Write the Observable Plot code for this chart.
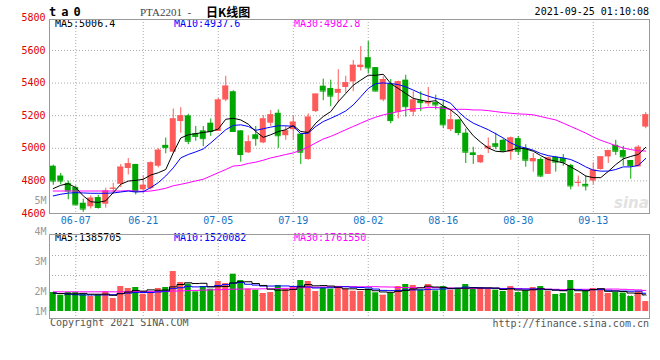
<!DOCTYPE html>
<html><head><meta charset="utf-8">
<script src="https://cdn.jsdelivr.net/npm/d3@7"></script>
<script src="https://cdn.jsdelivr.net/npm/@observablehq/plot@0.6"></script>
<style>
body{margin:0;background:#fff;}
#wrap{position:relative;width:660px;height:360px;overflow:hidden;font-family:"DejaVu Sans Mono",monospace;background:#fff;}
.t{position:absolute;white-space:pre;font-size:10px;line-height:12px;font-family:"DejaVu Sans Mono",monospace;}
#wrap svg{position:absolute;left:0;overflow:visible;}
</style></head><body>
<div id="wrap">
  <div class="t" style="left:614px;top:194px;font:italic bold 15px 'DejaVu Sans',sans-serif;color:#e2e2e2;">sina</div>
  <div class="t" style="left:49px;top:5px;font:bold 12px 'DejaVu Sans Mono',monospace;line-height:14px;letter-spacing:5px;color:#000;">ta0</div>
  <div class="t" style="left:140px;top:5px;font:11px 'Liberation Serif',serif;line-height:14px;color:#444;">PTA2201  - </div>
  <div class="t" style="left:206px;top:5px;font:bold 12px 'Noto Sans CJK SC',sans-serif;line-height:14px;color:#000;">日K线图</div>
  <div class="t" style="right:11px;top:6px;color:#000;">2021-09-25 01:10:08</div>
  <div class="t" id="lg1" style="left:55px;top:18px;color:#000;"></div>
  <div class="t" id="lg2" style="left:174px;top:18px;color:#0000ff;"></div>
  <div class="t" id="lg3" style="left:294px;top:18px;color:#ff00ff;"></div>
  <div class="t" id="lv1" style="left:55px;top:232px;color:#000;"></div>
  <div class="t" id="lv2" style="left:174px;top:232px;color:#0000ff;"></div>
  <div class="t" id="lv3" style="left:294px;top:232px;color:#ff00ff;"></div>
  <div class="t" style="left:50px;top:317px;color:#555;">Copyright 2021 SINA.COM</div>
  <div class="t" style="right:11px;top:318px;color:#555;">http://finance.sina.com.cn</div>
</div>
<script>
// ---- data ----
const dates = ["06-02","06-03","06-04","06-07","06-08","06-09","06-10","06-11","06-15","06-16","06-17","06-18","06-21","06-22","06-23","06-24","06-25","06-28","06-29","06-30",
"07-01","07-02","07-05","07-06","07-07","07-08","07-09","07-12","07-13","07-14","07-15","07-16","07-19","07-20","07-21","07-22","07-23","07-26","07-27","07-28","07-29","07-30",
"08-02","08-03","08-04","08-05","08-06","08-09","08-10","08-11","08-12","08-13","08-16","08-17","08-18","08-19","08-20","08-23","08-24","08-25","08-26","08-27","08-30","08-31",
"09-01","09-02","09-03","09-06","09-07","09-08","09-09","09-10","09-13","09-14","09-15","09-16","09-17","09-22","09-23","09-24"];
const open  = [4890,4830,4785,4759,4663,4641,4698,4657,4750,4779,4876,4901,4745,4753,4890,5018,4976,5164,5199,5089,5107,5154,5103,5296,5347,5107,4972,5083,5033,5154,5215,5077,5114,5087,4931,5225,5381,5367,5337,5373,5407,5495,5556,5495,5296,5393,5221,5418,5221,5292,5272,5280,5255,5114,5174,5093,4972,4911,4996,5028,5049,4976,5059,4998,4917,4931,4840,4945,4937,4895,4787,4779,4799,4870,4947,5018,4986,4925,4886,5130];
const high  = [4897,4846,4799,4769,4688,4708,4712,4755,4785,4901,4937,4901,4830,4917,4998,5063,5241,5249,5209,5134,5134,5180,5306,5442,5353,5107,5077,5134,5201,5231,5235,5134,5199,5087,5211,5332,5424,5418,5482,5442,5539,5624,5655,5495,5438,5422,5412,5448,5347,5347,5373,5326,5296,5235,5174,5118,5006,4960,5063,5093,5057,5069,5073,5022,4968,4941,4945,4951,4962,4901,4830,4830,4911,4947,4988,5049,5012,4925,5016,5219];
const low   = [4773,4777,4684,4650,4607,4627,4627,4633,4718,4759,4836,4714,4724,4745,4880,4966,4968,5093,5022,5043,5010,5073,5103,5286,5103,4915,4968,5012,5028,5134,4998,5049,5049,4901,4927,5219,5292,5255,5280,5337,5347,5474,5458,5347,5286,5150,5180,5191,5195,5225,5255,5235,5120,5103,5077,4907,4901,4907,4968,4992,4976,4927,4956,4884,4854,4820,4840,4854,4890,4745,4763,4738,4775,4866,4907,4956,4890,4810,4886,5120];
const close = [4799,4799,4738,4653,4627,4694,4637,4738,4755,4884,4905,4734,4773,4911,4988,5004,5180,5199,5043,5073,5059,5103,5296,5381,5103,4962,5039,5059,5180,5205,5077,5107,5160,4976,5191,5332,5351,5320,5361,5402,5509,5509,5493,5351,5422,5170,5408,5255,5296,5280,5286,5266,5144,5174,5097,4976,4962,4955,5012,5012,4982,5063,4982,4927,4937,4830,4941,4915,4915,4769,4791,4769,4866,4947,4986,4982,4947,4895,5006,5205];
const ma5  = [4753,4773,4783,4759,4708,4672,4668,4678,4728,4779,4799,4803,4810,4836,4850,4870,4972,5063,5083,5090,5097,5103,5118,5178,5184,5174,5148,5103,5067,5083,5103,5114,5140,5103,5097,5154,5195,5225,5286,5336,5387,5418,5448,5448,5454,5397,5367,5336,5306,5296,5286,5292,5260,5235,5199,5134,5077,5037,5002,4982,4978,4988,5002,4996,4982,4955,4931,4921,4911,4886,4860,4830,4820,4820,4858,4900,4935,4950,4962,5006];
const ma10 = [4708,4718,4725,4728,4726,4724,4724,4724,4726,4732,4738,4732,4734,4759,4789,4830,4880,4941,4962,4978,4996,5033,5073,5114,5140,5144,5134,5110,5120,5130,5138,5138,5134,5089,5093,5134,5164,5184,5205,5229,5266,5316,5367,5397,5401,5397,5391,5377,5357,5336,5320,5306,5296,5276,5225,5184,5154,5134,5114,5089,5063,5033,5012,5002,4988,4968,4955,4947,4941,4931,4911,4886,4866,4860,4860,4870,4886,4886,4895,4938];
const ma30 = [4738,4738,4738,4738,4738,4738,4738,4738,4738,4738,4740,4738,4735,4738,4745,4755,4770,4779,4789,4800,4810,4830,4850,4870,4891,4895,4907,4915,4927,4941,4951,4962,4972,4988,5008,5033,5057,5073,5093,5114,5134,5154,5174,5191,5205,5215,5225,5235,5241,5245,5251,5251,5245,5239,5239,5239,5235,5235,5231,5225,5219,5215,5211,5209,5205,5195,5184,5174,5154,5134,5114,5093,5069,5049,5033,5016,5002,4992,4985,4983];
const volume = [1.58e6,1.36e6,1.58e6,1.58e6,1.44e6,1.25e6,1.36e6,1.64e6,1.08e6,2.08e6,1.92e6,2.00e6,1.44e6,1.58e6,1.92e6,2.00e6,3.33e6,2.42e6,2.28e6,1.64e6,
2.08e6,1.86e6,2.50e6,2.33e6,3.11e6,2.58e6,1.86e6,1.78e6,1.50e6,1.58e6,2.17e6,1.86e6,2.08e6,2.58e6,2.50e6,1.67e6,1.97e6,1.86e6,2.08e6,1.86e6,
1.69e6,1.67e6,1.86e6,1.56e6,1.36e6,1.53e6,2.08e6,2.25e6,2.17e6,1.81e6,2.25e6,1.72e6,2.08e6,1.78e6,1.86e6,2.25e6,1.86e6,2.00e6,1.86e6,1.78e6,
1.67e6,2.08e6,1.58e6,1.72e6,2.00e6,2.08e6,1.67e6,1.42e6,1.50e6,2.58e6,1.50e6,1.67e6,1.92e6,1.83e6,1.50e6,1.58e6,1.53e6,1.25e6,1.67e6,0.83e6];
const volMa5 = [1.53e6,1.50e6,1.47e6,1.47e6,1.51e6,1.44e6,1.44e6,1.45e6,1.35e6,1.48e6,1.62e6,1.74e6,1.70e6,1.80e6,1.77e6,1.79e6,2.05e6,2.25e6,2.39e6,2.33e6,
2.35e6,2.06e6,2.07e6,2.08e6,2.38e6,2.48e6,2.48e6,2.33e6,2.17e6,1.86e6,1.78e6,1.78e6,1.84e6,2.05e6,2.24e6,2.14e6,2.16e6,2.12e6,2.02e6,1.89e6,
1.89e6,1.83e6,1.83e6,1.73e6,1.63e6,1.60e6,1.68e6,1.76e6,1.88e6,1.97e6,2.11e6,2.04e6,2.01e6,1.93e6,1.94e6,1.94e6,1.97e6,1.95e6,1.97e6,1.95e6,
1.83e6,1.88e6,1.79e6,1.77e6,1.81e6,1.89e6,1.81e6,1.78e6,1.73e6,1.85e6,1.73e6,1.73e6,1.83e6,1.90e6,1.68e6,1.70e6,1.67e6,1.54e6,1.51e6,1.39e6];
const volMa10 = [1.53e6,1.50e6,1.45e6,1.40e6,1.38e6,1.38e6,1.38e6,1.38e6,1.40e6,1.50e6,1.53e6,1.59e6,1.58e6,1.58e6,1.63e6,1.70e6,1.90e6,1.98e6,2.10e6,2.05e6,
2.07e6,2.06e6,2.16e6,2.24e6,2.36e6,2.41e6,2.27e6,2.20e6,2.12e6,2.12e6,2.13e6,2.13e6,2.09e6,2.11e6,2.05e6,1.96e6,1.97e6,1.98e6,2.04e6,2.06e6,
2.02e6,2.00e6,1.97e6,1.87e6,1.76e6,1.74e6,1.76e6,1.79e6,1.80e6,1.80e6,1.85e6,1.86e6,1.88e6,1.90e6,1.95e6,2.03e6,2.00e6,1.98e6,1.95e6,1.94e6,
1.89e6,1.92e6,1.87e6,1.87e6,1.88e6,1.86e6,1.84e6,1.79e6,1.75e6,1.83e6,1.81e6,1.77e6,1.81e6,1.82e6,1.77e6,1.72e6,1.70e6,1.69e6,1.70e6,1.52e6];
const volMa30 = [1.64e6,1.64e6,1.64e6,1.64e6,1.64e6,1.64e6,1.64e6,1.64e6,1.64e6,1.64e6,1.66e6,1.66e6,1.66e6,1.66e6,1.66e6,1.66e6,1.70e6,1.72e6,1.74e6,1.76e6,
1.78e6,1.80e6,1.82e6,1.84e6,1.86e6,1.87e6,1.88e6,1.88e6,1.89e6,1.89e6,1.91e6,1.93e6,1.94e6,1.98e6,2.01e6,2.02e6,2.04e6,2.05e6,2.09e6,2.08e6,
2.07e6,2.06e6,2.07e6,2.07e6,2.05e6,2.04e6,2.00e6,1.99e6,1.99e6,1.99e6,2.00e6,1.99e6,1.98e6,1.96e6,1.92e6,1.91e6,1.91e6,1.92e6,1.93e6,1.94e6,
1.92e6,1.93e6,1.91e6,1.88e6,1.86e6,1.88e6,1.87e6,1.85e6,1.83e6,1.86e6,1.85e6,1.85e6,1.85e6,1.86e6,1.87e6,1.87e6,1.85e6,1.82e6,1.80e6,1.76e6];
const xTicks = ["06-07","06-21","07-05","07-19","08-02","08-16","08-30","09-13"];
const priceTicks = [5800,5600,5400,5200,5000,4800,4600];
const priceLegend = ["MA5:5006.4","MA10:4937.6","MA30:4982.8"];
const volLegend = ["MA5:1385705","MA10:1520082","MA30:1761550"];
// volume axis labels, at the heights where the original draws them
const volTickLabels = ["5M","4M","3M","2M","1M"];
const volTickValues = [9.25e6,6.67e6,4.17e6,1.67e6,0];
const volGrid = [1.333e6,3.0e6,4.667e6];

// ---- build ----
const RED = "#ff5a5a", GREEN = "#00a600";
const rows = dates.map((d,i)=>({date:d,open:open[i],high:high[i],low:low[i],close:close[i],
  ma5:ma5[i],ma10:ma10[i],ma30:ma30[i],vol:volume[i],vm5:volMa5[i],vm10:volMa10[i],vm30:volMa30[i],
  col: close[i]>=open[i]?RED:GREEN}));
const dotted = {stroke:"#aaa", strokeDasharray:"1,2"};
const common = {width:660, marginLeft:49, marginRight:11,
  style:{fontFamily:"DejaVu Sans Mono, monospace", fontSize:"10px", background:"transparent", overflow:"visible"}};

const main = Plot.plot({...common, height:228, marginTop:19, marginBottom:15,
  x:{type:"band", domain:dates, padding:0},
  y:{domain:[4600,5790]},
  marks:[
    Plot.ruleY(priceTicks.filter(v=>v>4600 && v<5790), dotted),
    Plot.ruleX(xTicks, {x:d=>d, ...dotted}),
    Plot.ruleX(rows, {x:"date", y1:"low", y2:"high", stroke:"col"}),
    Plot.barY(rows, {x:"date", y1:"open", y2:"close", fill:"col", insetLeft:0.75, insetRight:0.75}),
    Plot.tickY(rows, {x:"date", y:"close", stroke:"col", insetLeft:0.75, insetRight:0.75}),
    Plot.lineY(rows, {x:"date", y:"ma30", stroke:"#ff00ff", strokeWidth:1}),
    Plot.lineY(rows, {x:"date", y:"ma10", stroke:"#0000ff", strokeWidth:1}),
    Plot.lineY(rows, {x:"date", y:"ma5", stroke:"#000", strokeWidth:1}),
    Plot.frame({stroke:"#999"}),
    Plot.axisY(priceTicks, {anchor:"left", tickSize:0, tickPadding:4, color:"#e00000", label:null, tickFormat:d=>String(d)}),
    Plot.axisX(xTicks, {anchor:"bottom", tickSize:0, tickPadding:3, color:"#1473c6", label:null})
  ]});
main.style.top = "0px";

const labelOf = new Map(volTickValues.map((v,i)=>[v, volTickLabels[i]]));
const volChart = Plot.plot({...common, height:150, marginTop:44, marginBottom:22,
  x:{type:"band", domain:dates, padding:0, axis:null},
  y:{domain:[-0.5833e6, 6.4167e6]},
  marks:[
    Plot.ruleY(volGrid, dotted),
    Plot.ruleX(xTicks, {x:d=>d, ...dotted}),
    Plot.barY(rows, {x:"date", y:"vol", fill:"col", insetLeft:0.75, insetRight:0.75}),
    Plot.lineY(rows, {x:"date", y:"vm30", stroke:"#ff00ff", curve:"step", strokeWidth:1}),
    Plot.lineY(rows, {x:"date", y:"vm10", stroke:"#0000ff", curve:"step", strokeWidth:1}),
    Plot.lineY(rows, {x:"date", y:"vm5", stroke:"#000", curve:"step", strokeWidth:1}),
    Plot.frame({stroke:"#999"}),
    Plot.axisY(volTickValues, {anchor:"left", tickSize:0, tickPadding:3, color:"#9a9a9a", label:null, tickFormat:d=>labelOf.get(d)})
  ]});
volChart.style.top = "190px";

const wrap = document.getElementById("wrap");
wrap.appendChild(main);
wrap.appendChild(volChart);
["lg1","lg2","lg3"].forEach((id,i)=>document.getElementById(id).textContent = priceLegend[i]);
["lv1","lv2","lv3"].forEach((id,i)=>document.getElementById(id).textContent = volLegend[i]);
</script>
</body></html>
